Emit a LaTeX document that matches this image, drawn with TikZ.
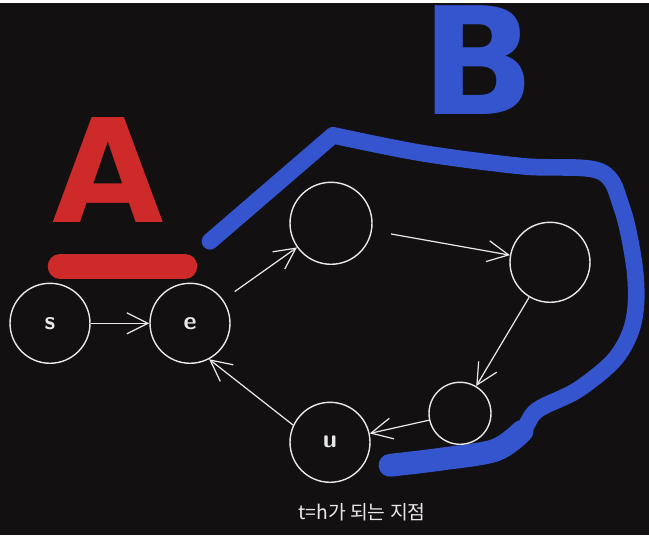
\documentclass[tikz,border=0pt]{standalone}
\usepackage{fontspec}
\newfontfamily\kofont{Noto Sans CJK KR}
\newfontfamily\letterfont{DejaVu Sans}
\usetikzlibrary{arrows.meta}

\definecolor{board}{RGB}{18,16,16}
\definecolor{penblue}{RGB}{52,85,206}
\definecolor{penred}{RGB}{206,42,42}
\definecolor{chalk}{RGB}{232,232,232}

\begin{document}
\begin{tikzpicture}[x=0.02cm, y=-0.02cm,
	vtx/.style={circle, draw=chalk, line width=0.8pt, minimum size=1.6cm, inner sep=0pt, text=chalk, font=\sffamily\Large\bfseries},
	vtxsmall/.style={vtx, minimum size=1.24cm},
	arr/.style={draw=chalk, line width=0.7pt, -{Straight Barb[length=12pt,width=12pt]}},
	marker/.style={line cap=round, line join=round}]
	\fill[board] (0,0) rectangle (649,532);
	% group B
	\draw[penblue, marker, line width=9.5pt] (210,238) -- plot[smooth, tension=0.55] coordinates {(333,132) (423,150) (523,163) (600,168) (622,205) (634,260) (636,300) (630,330) (613,358) (577,387) (537,407) (522,428) (495,447) (440,456) (390,462)};
	\draw[penblue, marker, line width=13pt] plot[smooth, tension=0.55] coordinates {(522,428) (495,447) (440,456) (390,462)};
	\node[text=penblue, font={\letterfont\bfseries\fontsize{85}{85}\selectfont}] (labelB) at (478,57) {B};
	% group A
	\draw[penred, marker, line width=14pt] (60,263) -- (185,263);
	\node[text=penred, font={\letterfont\bfseries\fontsize{82}{82}\selectfont}] (labelA) at (108,167) {A};
	% vertices
	\node[vtx] (s) at (50,320) {s};
	\node[vtx] (e) at (190,320) {e};
	\node[vtx, minimum size=1.64cm] (n1) at (331,220) {};
	\node[vtx] (n2) at (550,259) {};
	\node[vtxsmall] (n3) at (460,410) {};
	\node[vtx] (u) at (330,439) {u};
	% edges
	\draw[arr] (s) -- (e);
	\draw[arr, shorten <=8pt] (e) -- (n1);
	\draw[arr, shorten <=11pt] (n1) -- (n2);
	\draw[arr] (n2) -- (n3);
	\draw[arr] (n3) -- (u);
	\draw[arr] (u.155) -- (e.-62);
	\node[text=chalk, font={\kofont\fontsize{11}{13}\selectfont}] (caption) at (362,509) {t=h가 되는 지점};
\end{tikzpicture}
\end{document}
